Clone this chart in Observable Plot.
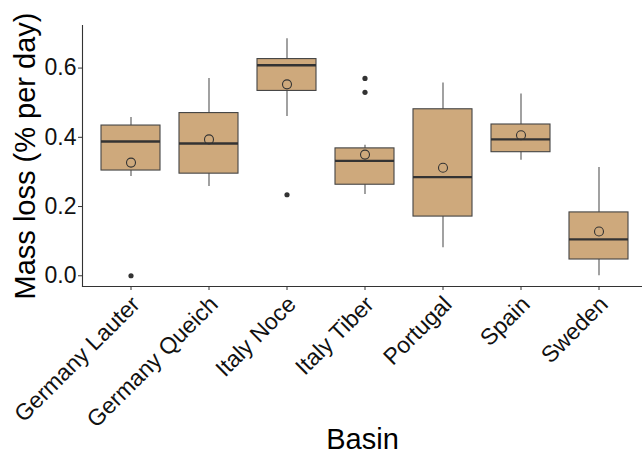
<!DOCTYPE html>
<html>
<head>
<meta charset="utf-8">
<script src="https://cdn.jsdelivr.net/npm/d3@7"></script>
<script src="https://cdn.jsdelivr.net/npm/@observablehq/plot@0.6"></script>
<style>
  html, body { margin: 0; padding: 0; background: #fff; }
  #chart svg { display: block; font-family: "Liberation Sans", Arial, sans-serif; }
</style>
</head>
<body>
<div id="chart"></div>
<script>
const basins = ["Germany Lauter", "Germany Queich", "Italy Noce", "Italy Tiber", "Portugal", "Spain", "Sweden"];
const whiskerLow  = [0.287, 0.258, 0.460, 0.235, 0.081, 0.334, 0.000];
const q1          = [0.304, 0.295, 0.534, 0.263, 0.171, 0.357, 0.047];
const medians     = [0.388, 0.382, 0.608, 0.332, 0.285, 0.394, 0.105];
const q3          = [0.434, 0.470, 0.626, 0.368, 0.481, 0.437, 0.183];
const whiskerHigh = [0.457, 0.570, 0.685, 0.377, 0.557, 0.525, 0.313];
const means       = [0.327, 0.394, 0.553, 0.350, 0.312, 0.406, 0.128];
const outlierBasin = ["Germany Lauter", "Italy Noce", "Italy Tiber", "Italy Tiber"];
const outlierValue = [0.000, 0.234, 0.570, 0.530];
const yTicks = [0, 0.2, 0.4, 0.6];

const boxes = basins.map((b, i) => ({
  basin: b, lo: whiskerLow[i], q1: q1[i], med: medians[i], q3: q3[i], hi: whiskerHigh[i], mean: means[i]
}));
const outliers = outlierBasin.map((b, i) => ({basin: b, value: outlierValue[i]}));

const chart = Plot.plot({
  width: 642,
  height: 462,
  marginLeft: 82,
  marginRight: 0,
  marginTop: 25,
  marginBottom: 176,
  style: {fontFamily: '"Liberation Sans", Arial, sans-serif', background: "#fff"},
  x: {type: "band", domain: basins, range: [82, 646], paddingInner: 0.25, paddingOuter: 0.225},
  y: {domain: [-0.031, 0.723]},
  marks: [
    Plot.ruleX(boxes, {x: "basin", y1: "lo", y2: "hi", stroke: "#555", strokeWidth: 1.1}),
    Plot.barY(boxes, {x: "basin", y1: "q1", y2: "q3", fill: "#cea97c", stroke: "#444", strokeWidth: 1.1}),
    Plot.tickY(boxes, {x: "basin", y: "med", stroke: "#333", strokeWidth: 2.4}),
    Plot.dot(boxes, {x: "basin", y: "mean", r: 4.5, stroke: "#333", strokeWidth: 1.1, fill: "none"}),
    Plot.dot(outliers, {x: "basin", y: "value", r: 2.6, fill: "#333", stroke: "none"}),
    Plot.frame({anchor: "left", stroke: "#333", strokeWidth: 1.1}),
    Plot.frame({anchor: "bottom", stroke: "#333", strokeWidth: 1.1}),
    Plot.axisY({ticks: yTicks, tickFormat: d => d.toFixed(1), tickSize: 4, tickPadding: 2, fontSize: 23, label: null, color: "#111", stroke: "#333"}),
    Plot.axisX({tickSize: 4, text: null, label: null, stroke: "#333"}),
    Plot.axisX({tickRotate: -45, tickSize: 0, tickPadding: 14, dx: 5, fontSize: 23, label: null, color: "#111"}),
    Plot.text(["Mass loss (% per day)"], {frameAnchor: "left", textAnchor: "middle", dx: -57, rotate: -90, fontSize: 29, fill: "#000"}),
    Plot.text(["Basin"], {frameAnchor: "bottom", textAnchor: "middle", dy: 162, fontSize: 29, fill: "#000"})
  ]
});
document.getElementById("chart").appendChild(chart);
</script>
</body>
</html>
